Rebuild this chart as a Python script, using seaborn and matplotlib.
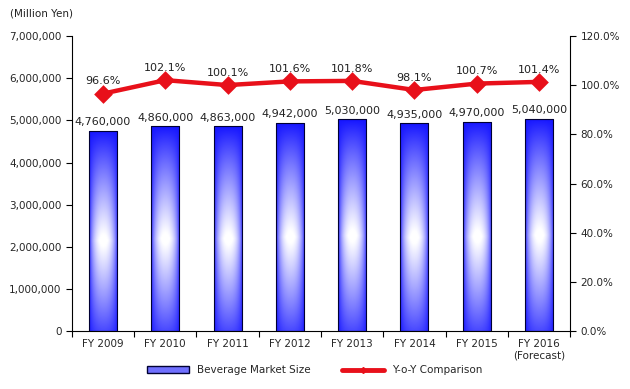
import numpy as np
import pandas as pd
import seaborn as sns
import matplotlib.pyplot as plt
from matplotlib.lines import Line2D
from matplotlib.patches import Patch

# ====================== DATA ======================
years = ["FY 2009", "FY 2010", "FY 2011", "FY 2012", "FY 2013", "FY 2014", "FY 2015",
         "FY 2016\n(Forecast)"]
market_size = [4760000, 4860000, 4863000, 4942000, 5030000, 4935000, 4970000, 5040000]
yoy = [96.6, 102.1, 100.1, 101.6, 101.8, 98.1, 100.7, 101.4]

df = pd.DataFrame({"year": years, "size": market_size, "yoy": yoy})

sns.set_theme(style="white")
plt.rcParams["font.family"] = ["DejaVu Sans"]
plt.rcParams["font.size"] = 7

fig = plt.figure(figsize=(6.3, 3.89), dpi=100)
ax = fig.add_axes([0.114, 0.149, 0.791, 0.758])

# 1. Bars
sns.barplot(data=df, x="year", y="size", ax=ax, width=0.45, color="blue", zorder=2)

# 2D gradient texture: blue at edges, white towards the middle of the bar
yy = np.linspace(0, 1, 200).reshape(-1, 1)
xx = np.linspace(-1, 1, 60).reshape(1, -1)
vert = np.clip(1 - np.abs(yy - 0.55) / 0.55, 0, 1) ** 0.9
horiz = np.clip(1 - np.abs(xx) ** 2.2, 0, 1) ** 0.7
white = np.clip(vert * horiz * 1.05, 0, 1)
blue = np.array([0.08, 0.08, 1.0])
tex = np.clip(blue + (1 - blue) * white[..., None], 0, 1)

for p in ax.patches:
    x0, y0 = p.get_x(), p.get_y()
    w, h = p.get_width(), p.get_height()
    im = ax.imshow(tex, aspect="auto", extent=[x0, x0 + w, y0, y0 + h],
                   origin="upper", zorder=2, interpolation="bilinear")
    im.set_clip_path(p)
    p.set_facecolor("none")
    p.set_edgecolor("#000033")
    p.set_linewidth(0.8)
    p.set_zorder(3)
    ax.text(x0 + w / 2, y0 + h + 80000, f"{int(h):,}", ha="center", va="bottom",
            fontsize=8, color="#222222")

ax.set_xlim(-0.5, len(years) - 0.5)
ax.set_ylim(0, 7000000)
ax.set_yticks(range(0, 7000001, 1000000))
ax.set_yticklabels([f"{v:,}" for v in range(0, 7000001, 1000000)])
ax.set_xlabel("")
ax.set_ylabel("")
ax.set_xticks(np.arange(-0.5, len(years), 1), minor=True)
ax.tick_params(axis="x", which="major", length=0, pad=6, labelsize=7.5)
ax.tick_params(axis="x", which="minor", length=4, direction="out", color="black", width=0.8)
ax.tick_params(axis="y", length=4, direction="out", color="black", width=0.8, labelsize=7.5)
ax.xaxis.set_ticks_position("bottom")
ax.yaxis.set_ticks_position("left")
for s in ["top", "right"]:
    ax.spines[s].set_visible(False)
for s in ["left", "bottom"]:
    ax.spines[s].set_color("black")
    ax.spines[s].set_linewidth(0.8)

# 2. Y-o-Y line
ax2 = ax.twinx()
sns.pointplot(data=df, x="year", y="yoy", ax=ax2, color="#e8101a", markers="D",
              markersize=7, linewidth=3.2, errorbar=None)
for i, v in enumerate(yoy):
    ax2.text(i, v + 3, f"{v}%", ha="center", va="bottom", fontsize=8, color="#222222")
ax2.set_ylim(0, 120)
ax2.set_yticks(range(0, 121, 20))
ax2.set_yticklabels([f"{v:.1f}%" for v in range(0, 121, 20)])
ax2.set_ylabel("")
ax2.set_xlim(-0.5, len(years) - 0.5)
ax2.tick_params(axis="y", length=4, direction="out", color="black", width=0.8, labelsize=7.5)
for s in ["top", "left", "bottom"]:
    ax2.spines[s].set_visible(False)
ax2.spines["right"].set_color("black")
ax2.spines["right"].set_linewidth(0.8)

fig.text(0.016, 0.965, "(Million Yen)", fontsize=7.5, ha="left", va="center", color="#222222")

handles = [Patch(facecolor="#7070ff", edgecolor="#000033", label="Beverage Market Size"),
           Line2D([0], [0], color="#e8101a", lw=3.5, marker="D", markersize=3,
                  label="Y-o-Y Comparison")]
fig.legend(handles=handles, loc="center", bbox_to_anchor=(0.5, 0.048), ncol=2,
           frameon=False, fontsize=7.5, handlelength=4, columnspacing=3)

plt.savefig("out.png", dpi=100)
